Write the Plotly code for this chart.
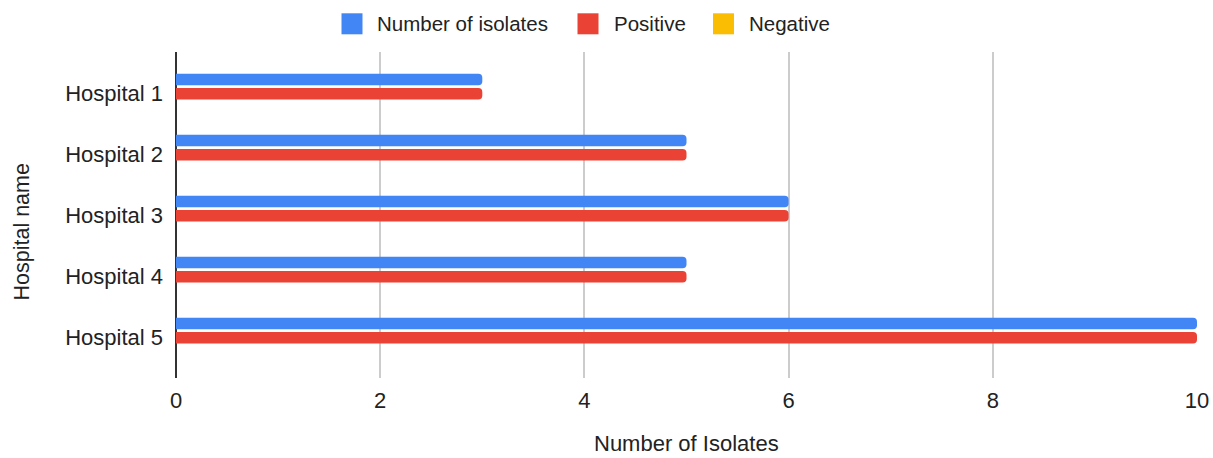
import plotly.graph_objects as go

# Isolate counts per hospital
hospitals = ["Hospital 1", "Hospital 2", "Hospital 3", "Hospital 4", "Hospital 5"]
num_isolates = [3, 5, 6, 5, 10]
positive = [3, 5, 6, 5, 10]
negative = [0, 0, 0, 0, 0]

series_names = ["Number of isolates", "Positive", "Negative"]
series_values = [num_isolates, positive, negative]
series_colors = ["#4285F4", "#EA4335", "#FBBC04"]

FONT = "Liberation Sans, Arial, sans-serif"
TEXT = "#222222"

# plot-area geometry in pixels (used to place the legend row)
W, H = 1213, 458
L, R, T, B = 176, 16, 52, 80
PW, PH = W - L - R, H - T - B


def px_x(p):
    return (p - L) / PW


def px_y(p):
    return (H - B - p) / PH


fig = go.Figure()

for name, vals, color in zip(series_names, series_values, series_colors):
    fig.add_trace(go.Bar(
        y=hospitals, x=vals, name=name, orientation="h",
        marker=dict(color=color, cornerradius=4, line=dict(width=0)),
        showlegend=False,
    ))

# legend row: swatch + label for each series
swatch_left = [341.5, 577.5, 713]
label_left = [375, 611.5, 746.5]
shapes = []
annotations = []
for name, color, sx, lx in zip(series_names, series_colors, swatch_left, label_left):
    shapes.append(dict(
        type="rect", xref="paper", yref="paper",
        x0=px_x(sx), x1=px_x(sx + 21), y0=px_y(34.3), y1=px_y(13.3),
        fillcolor=color, line=dict(width=0), layer="above",
    ))
    annotations.append(dict(
        text=name, xref="paper", yref="paper",
        x=px_x(lx), y=px_y(23), xanchor="left", yanchor="middle",
        showarrow=False, font=dict(size=20.5, color=TEXT),
    ))

annotations += [
    dict(text="Number of Isolates", xref="paper", yref="paper",
         x=0.5, y=px_y(458), xanchor="center", yanchor="bottom",
         showarrow=False, font=dict(size=22, color=TEXT)),
    dict(text="Hospital name", xref="paper", yref="paper",
         x=px_x(21), y=px_y(232.5), xanchor="center", yanchor="middle",
         textangle=-90, showarrow=False, font=dict(size=21.5, color=TEXT)),
]

fig.update_layout(
    width=W, height=H,
    margin=dict(l=L, r=R, t=T, b=B, autoexpand=False),
    paper_bgcolor="white", plot_bgcolor="white",
    barmode="group", bargap=0.30, bargroupgap=0.2,
    font=dict(family=FONT, color=TEXT, size=22),
    showlegend=False,
    xaxis=dict(
        range=[0, 10], dtick=2, tick0=0, automargin=False,
        showgrid=True, gridcolor="#cccccc", gridwidth=2,
        zeroline=True, zerolinecolor="#333333", zerolinewidth=2,
        showline=False, ticks="", ticklabelstandoff=7,
        tickfont=dict(size=22, color=TEXT),
    ),
    yaxis=dict(
        type="category", categoryorder="array", categoryarray=hospitals,
        range=[4.66, -0.684], automargin=False,
        showgrid=False, zeroline=False, showline=False, ticks="",
        ticklabelstandoff=12,
        tickfont=dict(size=22, color=TEXT),
    ),
    shapes=shapes,
    annotations=annotations,
)

fig.write_html("out.html")
